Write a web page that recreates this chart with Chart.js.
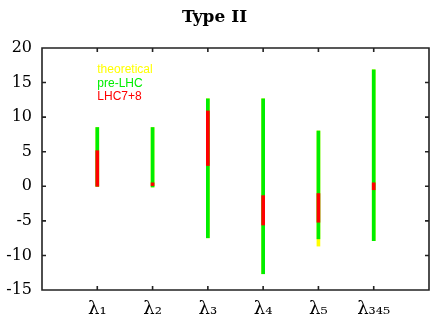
<!DOCTYPE html>
<html>
<head>
<meta charset="utf-8">
<script src="https://cdn.jsdelivr.net/npm/chart.js@4"></script>
<style>
html,body{margin:0;padding:0;background:#fff;}
#wrap{width:436px;height:328px;}
</style>
</head>
<body>
<div id="wrap"><canvas id="c" width="436" height="328"></canvas></div>
<script>
const categories = ['λ₁','λ₂','λ₃','λ₄','λ₅','λ₃₄₅'];
const seriesNames = ['theoretical','pre-LHC','LHC7+8'];
const theoLow  = [0, -0.1, -7.45, -12.65, -8.65, -7.85];
const theoHigh = [8.5, 8.5, 12.65, 12.65, 8.0, 16.85];
const preLow   = [0, -0.1, -7.45, -12.65, -7.6, -7.85];
const preHigh  = [8.5, 8.5, 12.65, 12.65, 8.0, 16.85];
const lhcLow   = [0, 0.1, 3.0, -5.6, -5.2, -0.5];
const lhcHigh  = [5.15, 0.5, 10.9, -1.35, -1.05, 0.5];
const yTicks   = [-15, -10, -5, 0, 5, 10, 15, 20];

const colors = ['#ffff00', '#00ee00', '#ff0000'];

function toData(lo, hi){ return categories.map((c,i)=>({x:i+1, y:[lo[i],hi[i]]})); }

const frame = {
  id:'frame',
  afterDatasetsDraw(chart){
    const ctx = chart.ctx, scales = chart.scales;
    const l = scales.x.left, r = scales.x.right, t = scales.y.top, b = scales.y.bottom;
    ctx.save();
    ctx.strokeStyle = '#222222';
    ctx.lineWidth = 1.6;
    ctx.beginPath();
    ctx.moveTo(l, t); ctx.lineTo(r, t); ctx.lineTo(r, b); ctx.lineTo(l, b); ctx.closePath();
    const L = 4;
    yTicks.forEach(v=>{
      const y = scales.y.getPixelForValue(v);
      ctx.moveTo(l, y); ctx.lineTo(l+L, y);
      ctx.moveTo(r, y); ctx.lineTo(r-L, y);
    });
    categories.forEach((c,i)=>{
      const x = scales.x.getPixelForValue(i+1);
      ctx.moveTo(x, t); ctx.lineTo(x, t+L);
      ctx.moveTo(x, b); ctx.lineTo(x, b-L);
    });
    ctx.stroke();
    ctx.restore();
  },
  afterDraw(chart){
    const ctx = chart.ctx, scales = chart.scales;
    ctx.save();
    ctx.font = '12px "Liberation Sans", Arial, sans-serif';
    ctx.textAlign = 'left';
    ctx.textBaseline = 'middle';
    const lx = scales.x.getPixelForValue(1);
    const ly = [16.9, 14.9, 12.9];
    seriesNames.forEach((n,i)=>{
      ctx.fillStyle = colors[i];
      ctx.fillText(n, lx, scales.y.getPixelForValue(ly[i]));
    });
    ctx.restore();
  }
};

const common = {barThickness:3, maxBarThickness:3, borderWidth:0, borderSkipped:false};

new Chart(document.getElementById('c'), {
  type:'bar',
  data:{
    datasets:[
      Object.assign({label:seriesNames[0], data:toData(theoLow, theoHigh), backgroundColor:colors[0], order:3}, common),
      Object.assign({label:seriesNames[1], data:toData(preLow, preHigh), backgroundColor:colors[1], order:2}, common),
      Object.assign({label:seriesNames[2], data:toData(lhcLow, lhcHigh), backgroundColor:colors[2], order:1}, common)
    ]
  },
  options:{
    responsive:false,
    animation:false,
    grouped:false,
    layout:{padding:{left:0,right:7,top:0,bottom:0}},
    plugins:{
      legend:{display:false},
      tooltip:{enabled:false},
      title:{display:true, text:'Type II', color:'#000',
        font:{family:'"DejaVu Serif", serif', size:17, weight:'bold'},
        padding:{top:7,bottom:20.6}}
    },
    scales:{
      x:{type:'linear', min:0, max:7, offset:false,
        grid:{display:false, drawTicks:false}, border:{display:false},
        afterBuildTicks(s){ s.ticks = categories.map((c,i)=>({value:i+1})); },
        afterFit(s){ s.height = 38; },
        ticks:{color:'#000', padding:9, maxRotation:0, autoSkip:false,
          font:{family:'"DejaVu Serif", serif', size:18},
          callback:(v)=>categories[v-1] || ''}
      },
      y:{min:-15, max:20,
        grid:{display:false, drawTicks:false}, border:{display:false},
        afterBuildTicks(s){ s.ticks = yTicks.map(v=>({value:v})); },
        afterFit(s){ s.width = 42; },
        ticks:{color:'#000', padding:10,
          font:{family:'"DejaVu Serif", serif', size:16}}
      }
    }
  },
  plugins:[frame]
});
</script>
</body>
</html>
